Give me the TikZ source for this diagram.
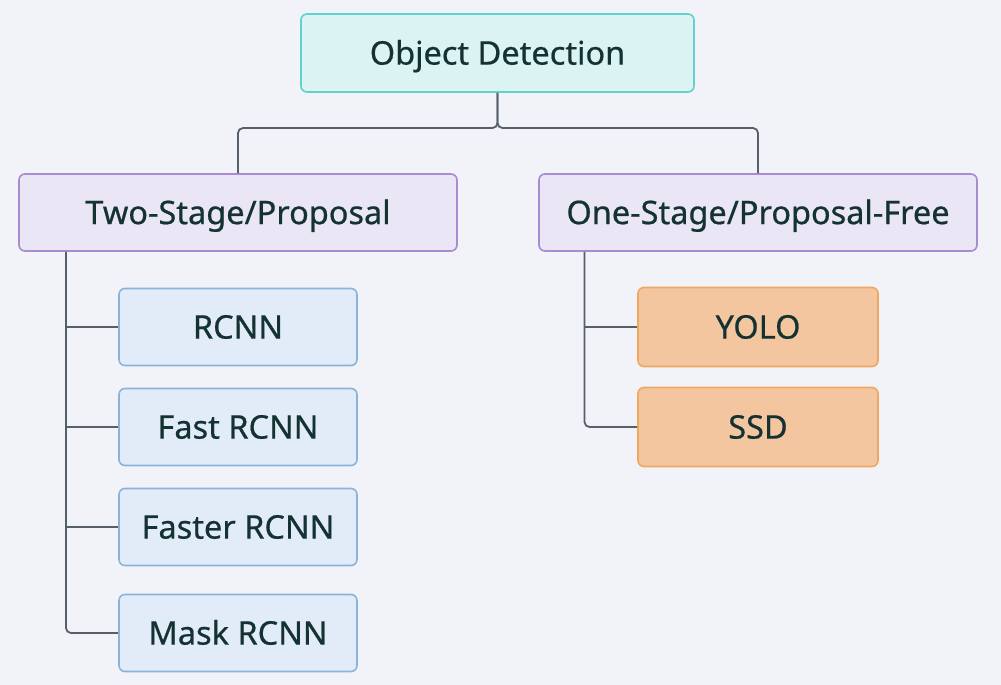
\documentclass[tikz,border=0pt]{standalone}
\usepackage{fontspec}
\setmainfont{Noto Sans}[FakeBold=0.6]
\newfontfamily\labelfont{Noto Sans}[FakeBold=0.6]
\begin{document}
\definecolor{bg}{HTML}{F1F3F9}
\definecolor{ink}{HTML}{143232}
\definecolor{wire}{HTML}{56606B}
\definecolor{tealfill}{HTML}{DCF3F3}
\definecolor{tealline}{HTML}{5FD2CC}
\definecolor{lavfill}{HTML}{EAE6F5}
\definecolor{lavline}{HTML}{A88BD0}
\definecolor{bluefill}{HTML}{E2ECF8}
\definecolor{blueline}{HTML}{8AB3DA}
\definecolor{orfill}{HTML}{F4C6A0}
\definecolor{orline}{HTML}{EFA762}
\begin{tikzpicture}[x=1pt,y=-1pt,
  box/.style={rounded corners=6pt, line width=1.6pt, text=ink,
    font=\labelfont\fontsize{32.5}{36}\selectfont, inner sep=0pt,
    text height=23.2pt, text depth=0pt},
  rootbox/.style={box, draw=tealline, fill=tealfill, minimum width=393pt, minimum height=78pt},
  groupbox/.style={box, draw=lavline, fill=lavfill, minimum width=438pt, minimum height=77pt},
  leafbox/.style={box, draw=blueline, fill=bluefill, minimum width=238pt, minimum height=77pt},
  fastbox/.style={box, draw=orline, fill=orfill, minimum width=240pt, minimum height=79pt},
  link/.style={draw=wire, line width=1.8pt, rounded corners=5pt}]
  \fill[bg] (0,0) rectangle (1001,685);
  \useasboundingbox (0,0) rectangle (1001,685);

  % root and the two families
  \node[rootbox]  (od)  at (497.5,53)   {Object Detection};
  \node[groupbox] (two) at (238,212.5)  {Two-Stage/Proposal};
  \node[groupbox] (one) at (758,212.5)  {One-Stage/Proposal-Free};

  % two-stage detectors
  \node[leafbox] (rcnn)   at (238,327) {RCNN};
  \node[leafbox] (fast)   at (238,427) {Fast RCNN};
  \node[leafbox] (faster) at (238,527) {Faster RCNN};
  \node[leafbox] (mask)   at (238,633) {Mask RCNN};

  % one-stage detectors
  \node[fastbox] (yolo) at (758,327) {YOLO};
  \node[fastbox] (ssd)  at (758,427) {SSD};

  % root split
  \coordinate (split) at (497.5,128);
  \draw[link] (od.south) -- (split) -| (two.north);
  \draw[link] (od.south) -- (split) -| (one.north);

  % two-stage branch
  \coordinate (tl) at (66,0);
  \draw[link] (two.south -| tl) |- (mask.west);
  \draw[link] (rcnn.west -| tl) -- (rcnn.west);
  \draw[link] (fast.west -| tl) -- (fast.west);
  \draw[link] (faster.west -| tl) -- (faster.west);

  % one-stage branch
  \coordinate (tr) at (584.5,0);
  \draw[link] (one.south -| tr) |- (ssd.west);
  \draw[link] (yolo.west -| tr) -- (yolo.west);
\end{tikzpicture}
\end{document}
